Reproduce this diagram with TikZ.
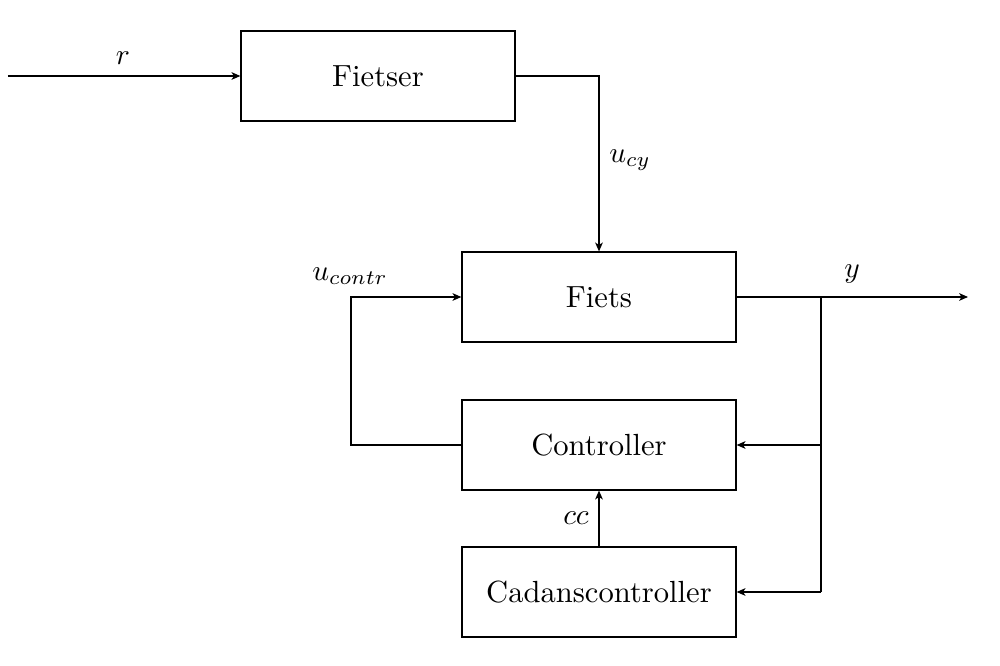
\documentclass[tikz,border=0pt]{standalone}
\usetikzlibrary{arrows.meta}
\begin{document}
\begin{tikzpicture}[x=0.34pt,y=-0.34pt,font=\fontsize{10.4}{12.5}\selectfont,
  blk/.style={draw,line width=0.4pt,minimum width=93.2pt,minimum height=30.6pt,inner sep=0pt},
  conn/.style={line width=0.4pt,-{Stealth[length=3pt,width=2.6pt,inset=0.8pt]}},
  wire/.style={line width=0.4pt}]
\useasboundingbox (0,0) rectangle (1000,666);
\node[blk] (fietser) at (378,76) {Fietser};
\node[blk] (fiets) at (599,297) {Fiets};
\node[blk] (contr) at (599,445) {Controller};
\node[blk] (cadans) at (599,592) {Cadanscontroller};
\coordinate (in) at (8,76);
\coordinate (out) at (968,297);
\coordinate (br) at (821,297);
\coordinate (lft) at (351,297);
\draw[conn] (in) -- (fietser.west);
\node (lr) at (123,58) {$r$};
\draw[conn] (fietser.east) -| (fiets.north);
\node (lucy) at (630,160) {$u_{cy}$};
\draw[conn] (fiets.east) -- (out);
\node (ly) at (852,274) {$y$};
\draw[wire] (br) -- (br |- cadans.east);
\draw[conn] (br |- contr.east) -- (contr.east);
\draw[conn] (br |- cadans.east) -- (cadans.east);
\draw[conn] (contr.west) -| (lft) -- (fiets.west);
\node (luc) at (350,276) {$u_{contr}$};
\draw[conn] (cadans.north) -- (contr.south);
\node (lcc) at (576,518) {$cc$};
\end{tikzpicture}
\end{document}
